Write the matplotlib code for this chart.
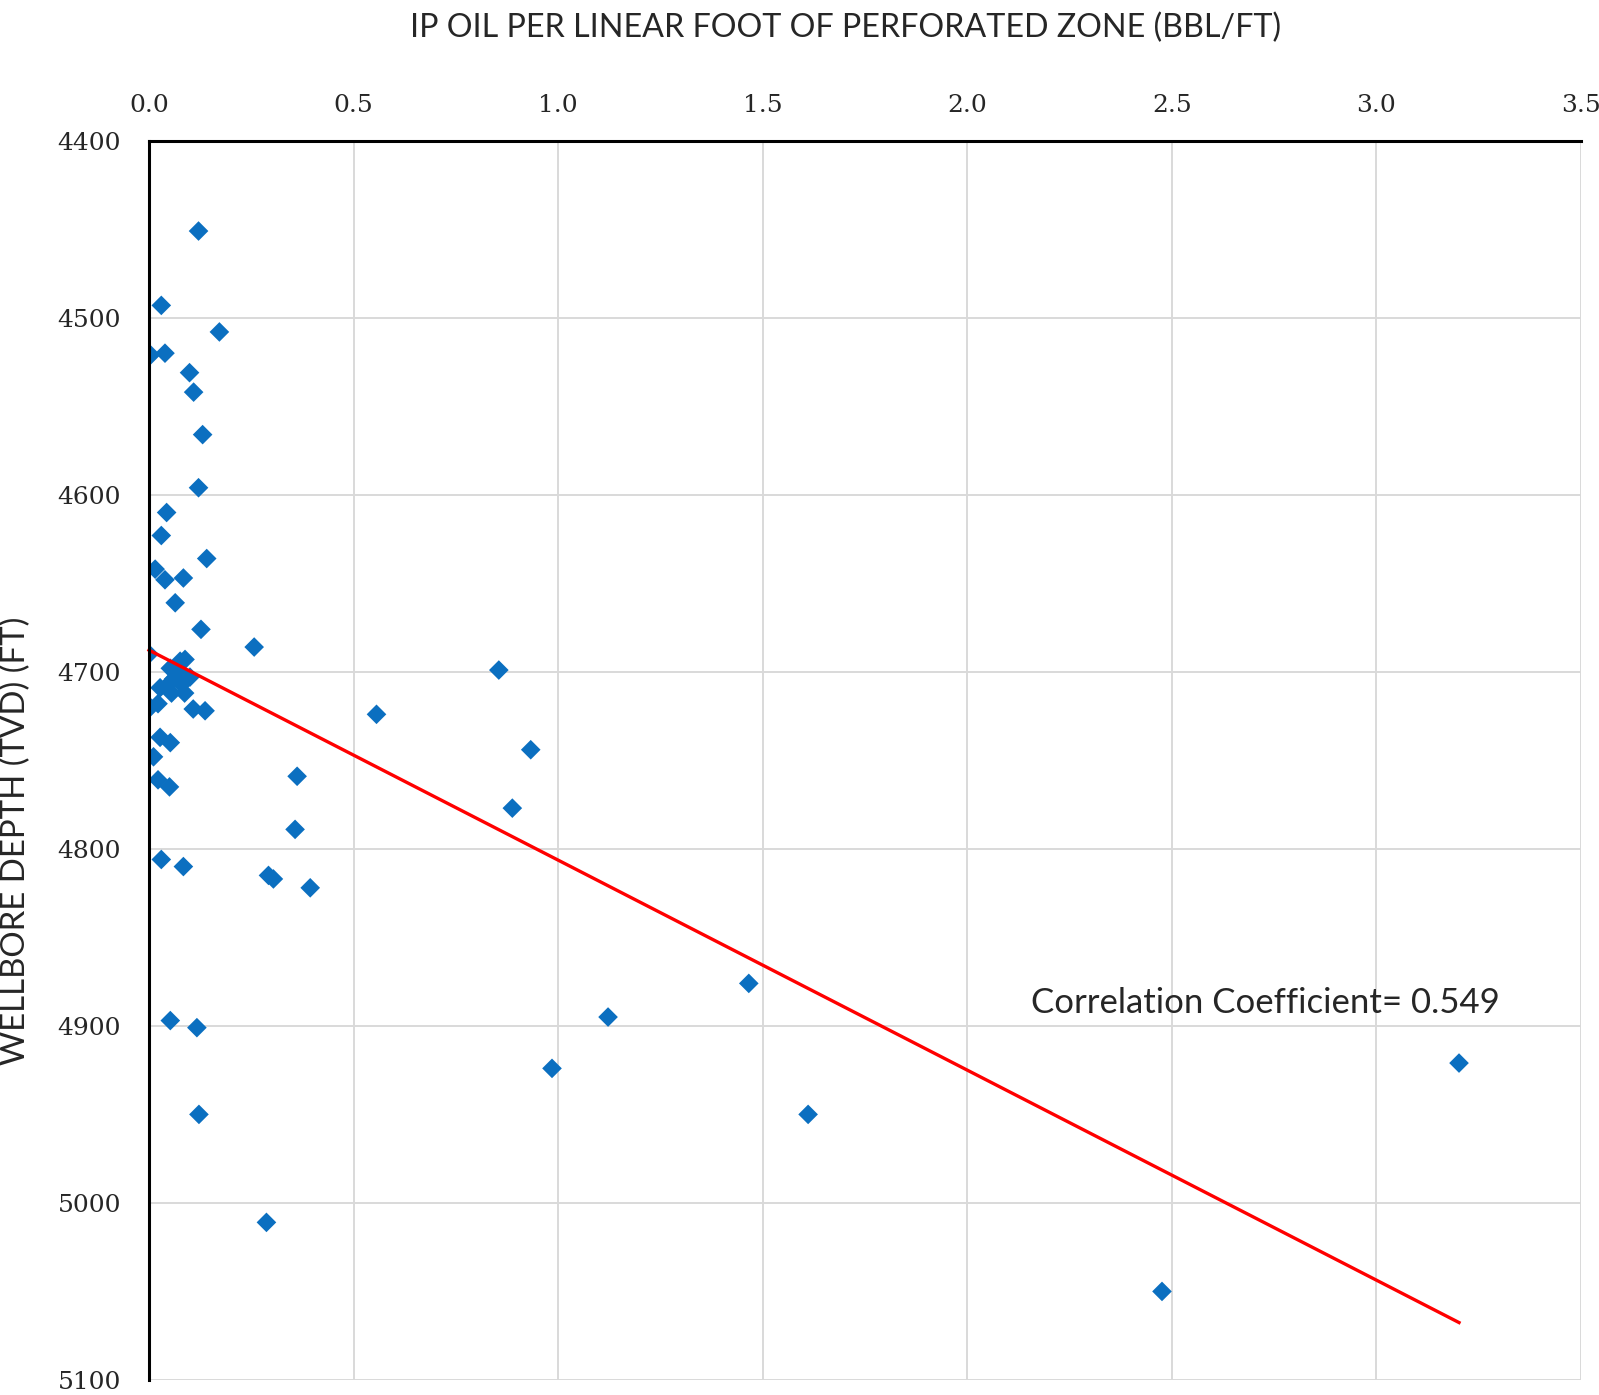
import numpy as np
import matplotlib
matplotlib.use("Agg")
import matplotlib.pyplot as plt

# IP oil per linear foot (BBL/FT) and wellbore depth TVD (FT)
ip_oil = [0.121, 0.030, 0.172, 0.004, 0.039, 0.099, 0.109, 0.131, 0.121, 0.043,
          0.030, 0.141, 0.015, 0.039, 0.084, 0.064, 0.127, 0.257, 0.000, 0.855,
          0.088, 0.076, 0.052, 0.072, 0.100, 0.060, 0.048, 0.080, 0.027, 0.055,
          0.087, 0.022, 0.003, 0.108, 0.137, 0.556, 0.933, 0.027, 0.052, 0.011,
          0.022, 0.050, 0.362, 0.888, 0.357, 0.030, 0.084, 0.292, 0.304, 0.394,
          1.466, 0.052, 0.117, 1.122, 0.985, 3.202, 0.122, 1.611, 0.287, 2.476]
depth = [4451, 4493, 4508, 4521, 4520, 4531, 4542, 4566, 4596, 4610,
         4623, 4636, 4642, 4648, 4647, 4661, 4676, 4686, 4690, 4699,
         4693, 4694, 4698, 4699, 4703, 4704, 4707, 4707, 4709, 4712,
         4712, 4718, 4720, 4721, 4722, 4724, 4744, 4737, 4740, 4748,
         4761, 4765, 4759, 4777, 4789, 4806, 4810, 4815, 4817, 4822,
         4876, 4897, 4901, 4895, 4924, 4921, 4950, 4950, 5011, 5050]

x_ticks = [0.0, 0.5, 1.0, 1.5, 2.0, 2.5, 3.0, 3.5]
y_ticks = [4400, 4500, 4600, 4700, 4800, 4900, 5000, 5100]
title = "IP OIL PER LINEAR FOOT OF PERFORATED ZONE (BBL/FT)"
ylabel = "WELLBORE DEPTH (TVD) (FT)"
annotation = "Correlation Coefficient= 0.549"

x = np.array(ip_oil)
y = np.array(depth)

fig = plt.figure(figsize=(15.99, 13.95), dpi=100)
ax = fig.add_axes([0.0932, 0.0108, 0.8955, 0.8883])

ax.set_xlim(0, 3.5)
ax.set_ylim(5100, 4400)
ax.set_xticks(x_ticks)
ax.set_yticks(y_ticks)
ax.set_xticklabels([f"{v:.1f}" for v in x_ticks], fontfamily="DejaVu Serif",
                   fontsize=18, color="#262626")
ax.set_yticklabels([str(v) for v in y_ticks], fontfamily="DejaVu Serif",
                   fontsize=18, color="#262626")
ax.xaxis.tick_top()
ax.tick_params(axis="both", length=0)
ax.tick_params(axis="x", pad=17)
ax.tick_params(axis="y", pad=20)

ax.grid(True, color="#D9D9D9", linewidth=1.4)
ax.set_axisbelow(True)
for s in ["right", "bottom"]:
    ax.spines[s].set_visible(False)
for s in ["left", "top"]:
    ax.spines[s].set_color("black")
    ax.spines[s].set_linewidth(2.2)
    ax.spines[s].set_zorder(5)

ax.scatter(x, y, marker="D", s=100, color="#0B6FC0", edgecolors="none", zorder=3)

# linear trendline from data
slope, intercept = np.polyfit(x, y, 1)
xl = np.array([0.0, x.max()])
ax.plot(xl, intercept + slope * xl, color="#FF0000", linewidth=2.4, zorder=4, clip_on=False)

ax.text(2.155, 4887, annotation, fontsize=25, family="Lato", color="#262626",
        va="center", ha="left")

fig.text(0.529, 0.980, title, fontsize=23.2, family="Lato", color="#262626",
         ha="center", va="center")
fig.text(0.010, 0.397, ylabel, fontsize=23.8, family="Lato", color="#262626",
         ha="center", va="center", rotation=90)

fig.savefig("out.png", dpi=100)
